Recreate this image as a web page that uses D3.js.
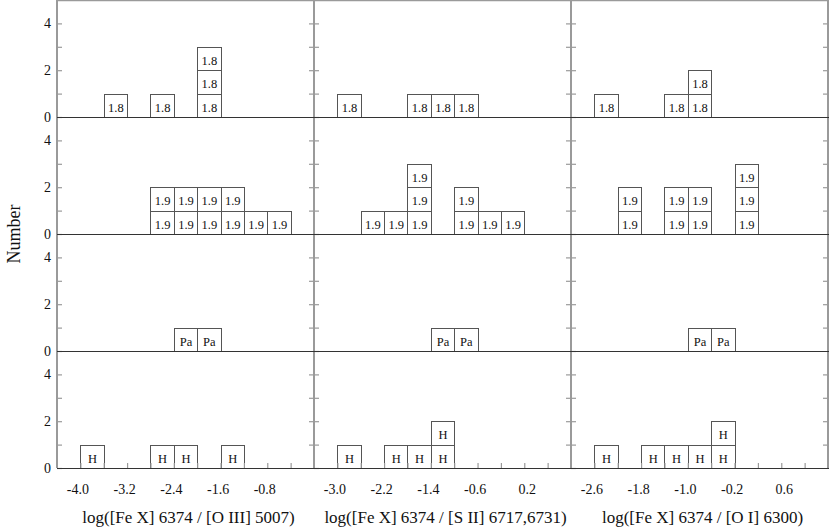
<!DOCTYPE html>
<html>
<head>
<meta charset="utf-8">
<script src="https://cdn.jsdelivr.net/npm/d3@7"></script>
<style>
  html, body { margin: 0; padding: 0; background: #fff; }
  svg { display: block; }
  svg text { font-family: "Liberation Serif", Tinos, "Times New Roman", Times, "DejaVu Serif", serif; fill: #111; }
</style>
</head>
<body>
<svg id="chart" width="830" height="530"></svg>
<script>
// ---------------- data ----------------
const rowNames = ["1.8", "1.9", "Pa", "H"];
const xTitles = [
  "log([Fe X] 6374 / [O III] 5007)",
  "log([Fe X] 6374 / [S II] 6717,6731)",
  "log([Fe X] 6374 / [O I] 6300)"
];
const yTitle = "Number";
const xTickLabels1 = [-4.0, -3.2, -2.4, -1.6, -0.8];
const xTickLabels2 = [-3.0, -2.2, -1.4, -0.6, 0.2];
const xTickLabels3 = [-2.6, -1.8, -1.0, -0.2, 0.6];
const yTickLabels = [0, 2, 4];
const binWidth = 0.4;

// bin start (log ratio) and count
// Column 1: [O III]
const oiii18 = [{x: -3.6, n: 1}, {x: -2.8, n: 1}, {x: -2.0, n: 3}];
const oiii19 = [{x: -2.8, n: 2}, {x: -2.4, n: 2}, {x: -2.0, n: 2}, {x: -1.6, n: 2}, {x: -1.2, n: 1}, {x: -0.8, n: 1}];
const oiiiPa = [{x: -2.4, n: 1}, {x: -2.0, n: 1}];
const oiiiH  = [{x: -4.0, n: 1}, {x: -2.8, n: 1}, {x: -2.4, n: 1}, {x: -1.6, n: 1}];
// Column 2: [S II]
const sii18 = [{x: -3.0, n: 1}, {x: -1.8, n: 1}, {x: -1.4, n: 1}, {x: -1.0, n: 1}];
const sii19 = [{x: -2.6, n: 1}, {x: -2.2, n: 1}, {x: -1.8, n: 3}, {x: -1.0, n: 2}, {x: -0.6, n: 1}, {x: -0.2, n: 1}];
const siiPa = [{x: -1.4, n: 1}, {x: -1.0, n: 1}];
const siiH  = [{x: -3.0, n: 1}, {x: -2.2, n: 1}, {x: -1.8, n: 1}, {x: -1.4, n: 2}];
// Column 3: [O I]
const oi18 = [{x: -2.6, n: 1}, {x: -1.4, n: 1}, {x: -1.0, n: 2}];
const oi19 = [{x: -2.2, n: 2}, {x: -1.4, n: 2}, {x: -1.0, n: 2}, {x: -0.2, n: 3}];
const oiPa = [{x: -1.0, n: 1}, {x: -0.6, n: 1}];
const oiH  = [{x: -2.6, n: 1}, {x: -1.8, n: 1}, {x: -1.4, n: 1}, {x: -1.0, n: 1}, {x: -0.6, n: 2}];

const columns = [
  {domain: [-4.4, 0.0], labels: xTickLabels1, rows: [oiii18, oiii19, oiiiPa, oiiiH]},
  {domain: [-3.4, 1.0], labels: xTickLabels2, rows: [sii18, sii19, siiPa, siiH]},
  {domain: [-3.0, 1.4], labels: xTickLabels3, rows: [oi18, oi19, oiPa, oiH]}
];

// ---------------- layout ----------------
const FONT = '"Liberation Serif", Tinos, "Times New Roman", Times, "DejaVu Serif", serif';
const svg = d3.select("#chart");
const colLeft = [57, 314, 571];
const colW = 257;
const rowH = 117;
const frameColor = "#9a9a9a";
const boxStroke = "#555";

columns.forEach((col, ci) => {
  const x0 = colLeft[ci];
  const x = d3.scaleLinear().domain(col.domain).range([x0, x0 + colW]);

  rowNames.forEach((rname, ri) => {
    const zero = rowH * (ri + 1);
    const y = d3.scaleLinear().domain([0, 5]).range([zero, zero - rowH]);
    const g = svg.append("g");

    // boxes
    const cells = [];
    col.rows[ri].forEach(b => { for (let k = 0; k < b.n; k++) cells.push({x: b.x, k}); });
    const cg = g.selectAll("g.cell").data(cells).join("g").attr("class", "cell");
    cg.append("rect")
      .attr("x", d => Math.round(x(d.x)) + 0.5)
      .attr("y", d => Math.round(y(d.k + 1)) + 0.5)
      .attr("width", d => Math.round(x(d.x + binWidth)) - Math.round(x(d.x)))
      .attr("height", d => Math.round(y(d.k)) - Math.round(y(d.k + 1)))
      .attr("fill", "#fff")
      .attr("stroke", boxStroke)
      .attr("stroke-width", 1);
    cg.append("text")
      .attr("x", d => x(d.x + binWidth / 2) + 0.5)
      .attr("y", d => y(d.k) - 5.5)
      .attr("text-anchor", "middle")
      .attr("font-size", 12.5)
      .style("font-family", FONT)
      .text(rname);

    // left y axis (ticks inward)
    const yl = g.append("g")
      .attr("transform", `translate(${x0},0)`)
      .call(d3.axisLeft(y).tickValues([0, 1, 2, 3, 4])
        .tickSizeInner(-5).tickSizeOuter(0).tickPadding(6)
        .tickFormat(d => (ci === 0 && yTickLabels.includes(d)) ? String(d) : ""));
    yl.select(".domain").remove();
    yl.attr("font-family", null);
    yl.selectAll("line").attr("stroke", frameColor).attr("stroke-width", 1.2);
    yl.selectAll("text").attr("font-size", 14).attr("fill", "#111")
      .style("font-family", FONT);

    // right y axis ticks (inward)
    const yr = g.append("g")
      .attr("transform", `translate(${x0 + colW},0)`)
      .call(d3.axisRight(y).tickValues([1, 2, 3, 4])
        .tickSizeInner(-5).tickSizeOuter(0).tickFormat(""));
    yr.select(".domain").remove();
    yr.selectAll("line").attr("stroke", frameColor).attr("stroke-width", 1.2);

    // bottom x axis only on last row
    if (ri === rowNames.length - 1) {
      const tv = d3.range(Math.round((col.domain[0] + binWidth) * 10), Math.round(col.domain[1] * 10), 4).map(v => v / 10);
      const xa = g.append("g")
        .attr("transform", `translate(0,${zero})`)
        .call(d3.axisBottom(x).tickValues(tv)
          .tickSizeInner(-5).tickSizeOuter(0).tickPadding(16)
          .tickFormat(d => col.labels.some(l => Math.abs(l - d) < 1e-6) ? d.toFixed(1) : ""));
      xa.select(".domain").remove();
      xa.attr("font-family", null);
      xa.selectAll("line").attr("stroke", frameColor).attr("stroke-width", 1.2);
      xa.selectAll("text").attr("font-size", 14).attr("fill", "#111")
        .style("font-family", FONT)
        .attr("dx", d => d < 0 ? -3 : 2.5);

      svg.append("text")
        .attr("x", x0 + colW / 2 + 3)
        .attr("y", 523)
        .attr("text-anchor", "middle")
        .attr("font-size", 17)
        .style("font-family", FONT)
        .text(xTitles[ci]);
    }
  });
});

// frame: vertical gray lines
[57, 314, 571, 828].forEach(xv => {
  svg.append("line").attr("x1", xv).attr("x2", xv).attr("y1", 0).attr("y2", rowH * 4)
    .attr("stroke", frameColor).attr("stroke-width", 2);
});
// top border
svg.append("line").attr("x1", 57).attr("x2", 829).attr("y1", 0.5).attr("y2", 0.5)
  .attr("stroke", frameColor).attr("stroke-width", 1.5);
// zero lines
rowNames.forEach((r, ri) => {
  const yv = rowH * (ri + 1) + 0.5;
  svg.append("line").attr("x1", 57).attr("x2", 829).attr("y1", yv).attr("y2", yv)
    .attr("stroke", "#333").attr("stroke-width", 1);
});

// y title
svg.append("text")
  .attr("transform", "translate(20,234) rotate(-90)")
  .attr("text-anchor", "middle")
  .attr("font-size", 18)
  .style("font-family", FONT)
  .text(yTitle);
</script>
</body>
</html>
